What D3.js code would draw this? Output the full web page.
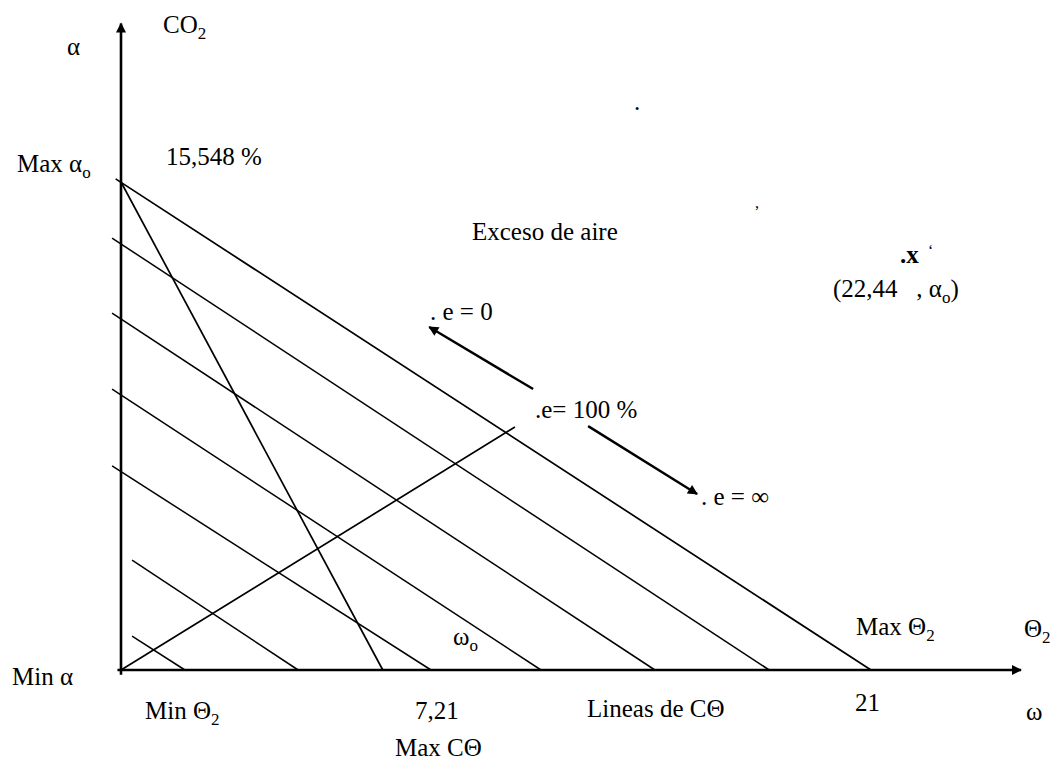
<!DOCTYPE html>
<html>
<head>
<meta charset="utf-8">
<script src="https://cdn.jsdelivr.net/npm/d3@7"></script>
<style>
  body { margin: 0; background: #fff; }
  text { font-family: "Liberation Serif", "Times New Roman", serif; font-size: 25px; fill: #000; white-space: pre; }
</style>
</head>
<body>
<div id="chart"></div>
<script>
// values (x = ω / Θ2 %, y = α / CO2 %)
var maxAlpha = 15.548;
var maxTheta = 21;
var maxCO = 7.33;
var axisEnd = [25.2, 20.6];

// CO lines (parallel to the max line), start and end points
var coX0 = [-0.25, -0.25, -0.25, -0.25, 0.31, 0.31];
var coY0 = [13.76, 11.37, 8.95, 6.50, 3.50, 1.08];
var coX1 = [18.15, 14.95, 11.76, 8.68, 4.96, 1.79];

// excess air line from origin
var excessX = [0, 11.03];
var excessY = [0, 7.74];

// direction arrows: e -> 0 and e -> inf
var arrowUp = [[11.54, 8.95], [8.63, 10.93]];
var arrowDown = [[13.08, 7.77], [16.13, 5.61]];

var W = 1056, H = 762;
var svg = d3.select("#chart").append("svg").attr("width", W).attr("height", H);

var x = d3.scaleLinear().domain([0, maxTheta]).range([121, 871]);
var y = d3.scaleLinear().domain([0, maxAlpha]).range([670, 182]);

var defs = svg.append("defs");
defs.append("marker").attr("id", "head")
  .attr("viewBox", "0 0 10 10").attr("refX", 9).attr("refY", 5)
  .attr("markerWidth", 14).attr("markerHeight", 10)
  .attr("markerUnits", "userSpaceOnUse")
  .attr("orient", "auto")
  .append("path").attr("d", "M0,0 L10,5 L0,10 z").attr("fill", "#000");

function seg(x0, y0, x1, y1, w, arrow) {
  var l = svg.append("line")
    .attr("x1", x(x0)).attr("y1", y(y0))
    .attr("x2", x(x1)).attr("y2", y(y1))
    .attr("stroke", "#000").attr("stroke-width", w);
  if (arrow) l.attr("marker-end", "url(#head)");
  return l;
}

/* axes */
seg(0, -0.15, 0, axisEnd[1], 2.6, true);
seg(-0.1, 0, axisEnd[0], 0, 2.6, true);

/* max line and CO lines */
seg(-0.15, maxAlpha + 0.1, maxTheta, 0, 1.7);
seg(0, maxAlpha, maxCO, 0, 1.7);
coX0.forEach(function (d, i) {
  seg(d, coY0[i], coX1[i], 0, 1.5);
});

/* excess air */
seg(excessX[0], excessY[0], excessX[1], excessY[1], 1.7);
seg(arrowUp[0][0], arrowUp[0][1], arrowUp[1][0], arrowUp[1][1], 2.4, true);
seg(arrowDown[0][0], arrowDown[0][1], arrowDown[1][0], arrowDown[1][1], 2.4, true);

/* labels, {sub: ".."} parts are subscripts */
function label(px, py, parts, bold) {
  var t = svg.append("text").attr("x", px).attr("y", py);
  if (bold) t.style("font-weight", "bold");
  var shift = 0;
  parts.forEach(function (p) {
    if (typeof p === "string") {
      t.append("tspan").attr("dy", -shift).text(p);
      shift = 0;
    } else {
      t.append("tspan").attr("dy", 6).style("font-size", "17px").text(p.sub);
      shift = 6;
    }
  });
  return t;
}

label(163, 33, ["CO", {sub: "2"}]);
label(67, 55, ["\u03b1"]);
label(17, 172, ["Max \u03b1", {sub: "o"}]);
label(166, 165, ["15,548 %"]);
label(472, 240, ["Exceso de aire"]);
label(900, 263, [".x"], true);
label(928, 256, ["\u2018"]).style("font-size", "16px");
label(833, 297, ["(22,44   , \u03b1", {sub: "o"}, ")"]);
label(430, 320, [". e = 0"]);
label(535, 418, [".e= 100 %"]);
label(701, 505, [". e = \u221e"]);
label(453, 645, ["\u03c9", {sub: "o"}]);
label(856, 635, ["Max \u0398", {sub: "2"}]);
label(1024, 637, ["\u0398", {sub: "2"}]);
label(12, 685, ["Min \u03b1"]);
label(145, 719, ["Min \u0398", {sub: "2"}]);
label(415, 719, ["7,21"]);
label(395, 756, ["Max C\u0398"]);
label(587, 717, ["Lineas de C\u0398"]);
label(855, 711, ["21"]);
label(1026, 720, ["\u03c9"]);
// stray specks on the scan
label(634, 110, ["."]);
label(755, 208, [","]).style("font-size", "16px");
</script>
</body>
</html>
